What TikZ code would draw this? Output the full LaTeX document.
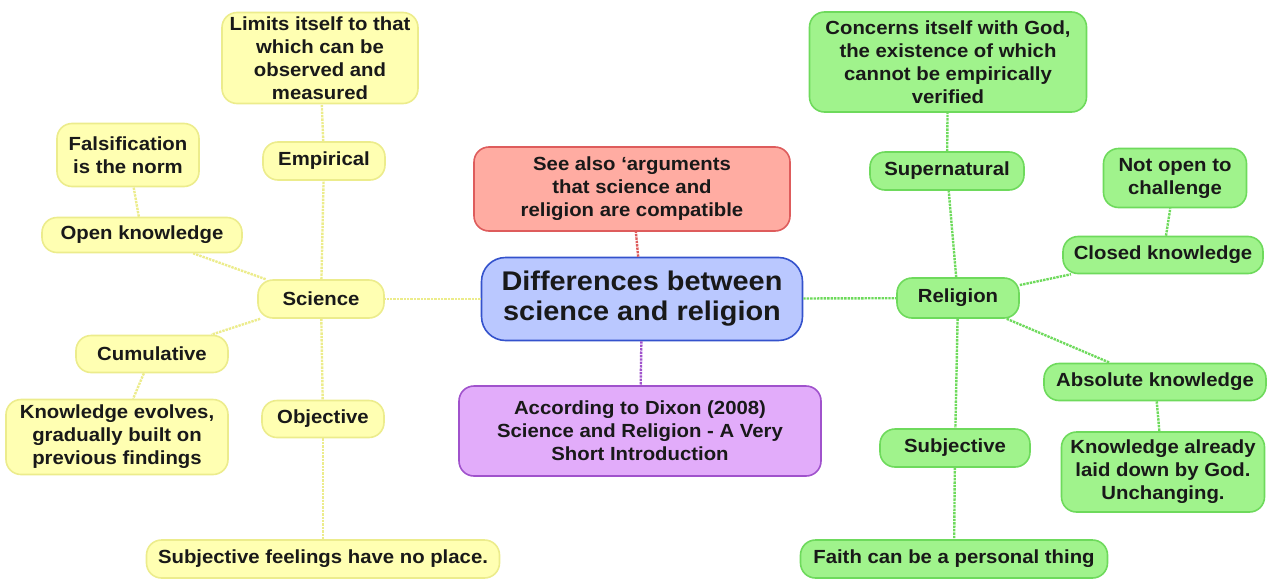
\documentclass[tikz,border=0pt]{standalone}
\usepackage{fontspec}
\setmainfont{Liberation Sans}[FakeStretch=1.07]
\usepackage{xcolor}
\usepackage{tikz}

\definecolor{sciFill}{RGB}{255,255,178}
\definecolor{sciLine}{RGB}{236,236,140}
\definecolor{relFill}{RGB}{160,243,140}
\definecolor{relLine}{RGB}{110,218,92}
\definecolor{seeFill}{RGB}{255,172,162}
\definecolor{seeLine}{RGB}{222,92,92}
\definecolor{mainFill}{RGB}{186,200,255}
\definecolor{mainLine}{RGB}{52,82,204}
\definecolor{dixFill}{RGB}{226,172,250}
\definecolor{dixLine}{RGB}{160,82,204}

\begin{document}
\begin{tikzpicture}[x=1pt, y=-1pt,
  every node/.style={rounded corners=15pt, line width=1.6pt, align=center,
    inner sep=4pt, font=\fontsize{19}{23}\selectfont\bfseries, text=black!90},
  sci/.style={draw=sciLine, fill=sciFill},
  rel/.style={draw=relLine, fill=relFill},
  link/.style={line width=2.4pt, densely dotted}]
\useasboundingbox (0,0) rectangle (1277,581);

% centre
\node[draw=mainLine, fill=mainFill, minimum width=321pt, minimum height=83pt,
  font=\fontsize{27}{30}\selectfont\bfseries, rounded corners=24pt] (main) at (642,299)
  {Differences between\\science and religion};
\node[draw=seeLine, fill=seeFill, minimum width=316pt, minimum height=84pt] (see) at (632,189)
  {See also ‘arguments\\that science and\\religion are compatible};
\node[draw=dixLine, fill=dixFill, minimum width=362pt, minimum height=90pt] (dixon) at (640,431)
  {According to Dixon (2008)\\Science and Religion - A Very\\Short Introduction};

% science
\node[sci, minimum width=126pt, minimum height=38pt] (science) at (321,299) {Science};
\node[sci, minimum width=122pt, minimum height=38pt] (empirical) at (324,161) {Empirical};
\node[sci, minimum width=196pt, minimum height=91pt] (limits) at (320,58)
  {Limits itself to that\\which can be\\observed and\\measured};
\node[sci, minimum width=200pt, minimum height=35pt] (open) at (142,235) {Open knowledge};
\node[sci, minimum width=142pt, minimum height=63pt] (falsif) at (128,155)
  {Falsification\\is the norm};
\node[sci, minimum width=152pt, minimum height=37pt] (cumul) at (152,354) {Cumulative};
\node[sci, minimum width=222pt, minimum height=75pt] (evolves) at (117,437)
  {Knowledge evolves,\\gradually built on\\previous findings};
\node[sci, minimum width=122pt, minimum height=37pt] (objective) at (323,419) {Objective};
\node[sci, minimum width=353pt, minimum height=38pt] (feelings) at (323,559)
  {Subjective feelings have no place.};

% religion
\node[rel, minimum width=122pt, minimum height=40pt] (religion) at (958,298) {Religion};
\node[rel, minimum width=154pt, minimum height=38pt] (supernat) at (947,171) {Supernatural};
\node[rel, minimum width=277pt, minimum height=100pt] (concerns) at (948,62)
  {Concerns itself with God,\\the existence of which\\cannot be empirically\\verified};
\node[rel, minimum width=200pt, minimum height=37pt] (closed) at (1163,255) {Closed knowledge};
\node[rel, minimum width=143pt, minimum height=59pt] (notopen) at (1175,178)
  {Not open to\\challenge};
\node[rel, minimum width=222pt, minimum height=37pt] (absolute) at (1155,382) {Absolute knowledge};
\node[rel, minimum width=203pt, minimum height=80pt] (already) at (1163,472)
  {Knowledge already\\laid down by God.\\Unchanging.};
\node[rel, minimum width=150pt, minimum height=38pt] (subject) at (955,448) {Subjective};
\node[rel, minimum width=307pt, minimum height=38pt] (faith) at (954,559)
  {Faith can be a personal thing};

% links
\draw[link, seeLine] (main) -- (see);
\draw[link, dixLine] (main) -- (dixon);
\draw[link, sciLine] (main) -- (science);
\draw[link, relLine] (main) -- (religion);
\foreach \a/\b in {science/empirical, empirical/limits, science/open, open/falsif,
    science/cumul, cumul/evolves, science/objective, objective/feelings}
  \draw[link, sciLine] (\a) -- (\b);
\foreach \a/\b in {religion/supernat, supernat/concerns, religion/closed, closed/notopen,
    religion/absolute, absolute/already, religion/subject, subject/faith}
  \draw[link, relLine] (\a) -- (\b);
\end{tikzpicture}
\end{document}
